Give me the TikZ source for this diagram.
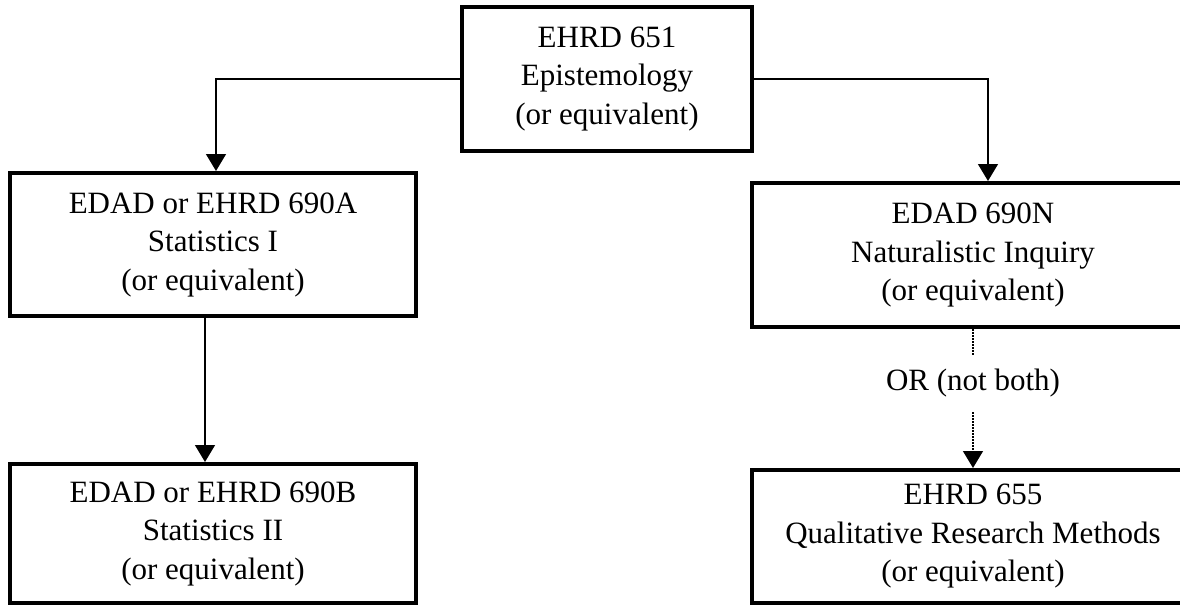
\documentclass[tikz,border=0pt]{standalone}
\usepackage{fontspec}
\setmainfont{Liberation Serif}
\usetikzlibrary{arrows.meta, positioning}

\begin{document}
\begin{tikzpicture}[
    x=0.5pt, y=-0.5pt,
    course/.style={rectangle, draw=black, line width=2pt, align=center, inner sep=0pt,
        font=\fontsize{15.5}{19.25}\selectfont},
    arrow/.style={-{Triangle[width=10pt, length=8.5pt]}, line width=0.75pt},
    orlink/.style={line width=0.75pt, dash pattern=on 0.75pt off 0.75pt}
]
\useasboundingbox (0,0) rectangle (1180,607);
\node[course, minimum width=145pt, minimum height=72pt] (epist) at (607,79) {EHRD 651\\Epistemology\\(or equivalent)};
\node[course, minimum width=203pt, minimum height=71.5pt] (stat1) at (213,244.5) {EDAD or EHRD 690A\\Statistics I\\(or equivalent)};
\node[course, minimum width=221pt, minimum height=72pt] (natinq) at (973,255) {EDAD 690N\\Naturalistic Inquiry\\(or equivalent)};
\node[course, minimum width=203pt, minimum height=69.5pt, below=72pt of stat1] (stat2) {EDAD or EHRD 690B\\Statistics II\\(or equivalent)};
\node[course, minimum width=221pt, minimum height=66.5pt, below=69.5pt of natinq] (qual) {EHRD 655\\Qualitative Research Methods\\(or equivalent)};
\node[font=\fontsize{15.5}{19.25}\selectfont, inner sep=0pt, minimum height=28.5pt] (ornot) at (973,383.5) {OR (not both)};
% connectors
\draw[arrow] (epist.west) -| ([xshift=1.5pt]stat1.north);
\draw[arrow] (epist.east) -| ([xshift=7.5pt]natinq.north);
\draw[arrow] ([xshift=-4pt]stat1.south) -- ([xshift=-4pt]stat2.north);
\draw[orlink] (natinq.south) -- (ornot.north);
\draw[orlink, arrow] (ornot.south) -- (qual.north);
\end{tikzpicture}
\end{document}
